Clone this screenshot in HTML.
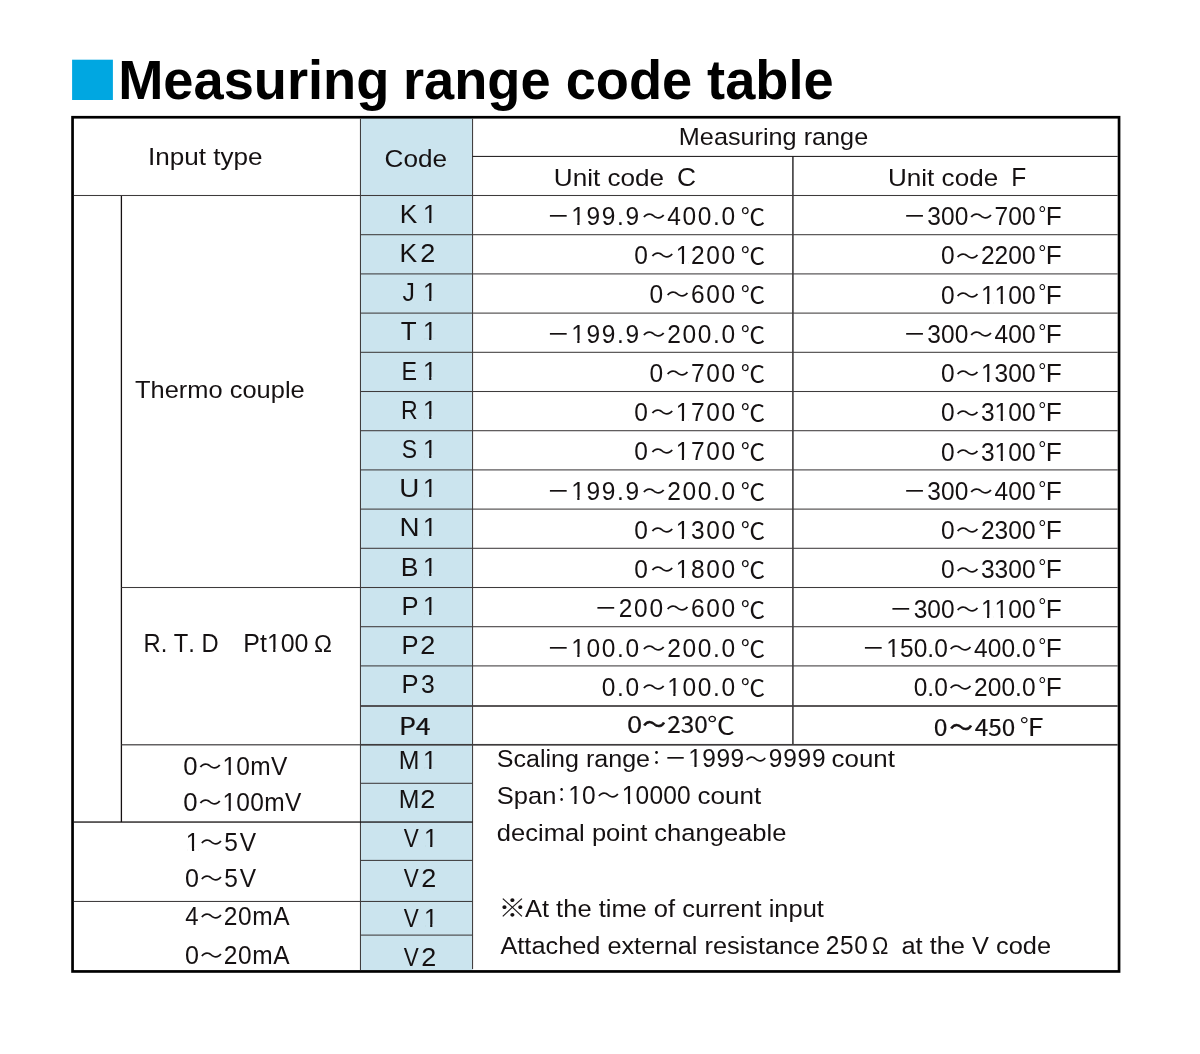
<!DOCTYPE html>
<html lang="en"><head><meta charset="utf-8"><title>Measuring range code table</title>
<style>
html,body{margin:0;padding:0;background:#fff}
svg{display:block}
text{white-space:pre;font-kerning:none;font-variant-ligatures:none}
</style></head>
<body>
<svg width="1200" height="1054" viewBox="0 0 1200 1054">
<rect width="1200" height="1054" fill="#fff"/>
<rect x="72.1" y="59.7" width="40.8" height="40.3" fill="#00a7e1"/>
<text transform="translate(0 99.1) scale(1.014 1.03)" font-family="'Liberation Sans', 'Noto Sans CJK JP', sans-serif" font-size="53.5" font-weight="700" fill="#000"><tspan x="116.52">Measuring </tspan><tspan x="397.41">range </tspan><tspan x="557.85">code </tspan><tspan x="697.37">table</tspan></text>
<rect x="360.45" y="118.10" width="112.10" height="852.50" fill="#cbe4ee"/>
<rect x="72.55" y="117.25" width="1046.50" height="854.20" fill="none" stroke="#000" stroke-width="2.7"/>
<rect x="120.75" y="195.50" width="1.30" height="626.55" fill="#151112"/>
<rect x="359.93" y="118.60" width="1.05" height="851.50" fill="#3e3b3c"/>
<rect x="472.03" y="118.60" width="1.05" height="850.50" fill="#3e3b3c"/>
<rect x="792.10" y="156.40" width="1.60" height="588.40" fill="#3e3b3c"/>
<rect x="472.55" y="155.90" width="645.15" height="1.00" fill="#151112"/>
<rect x="73.90" y="194.97" width="1043.80" height="1.05" fill="#3e3b3c"/>
<rect x="360.45" y="234.17" width="757.25" height="1.05" fill="#3e3b3c"/>
<rect x="360.45" y="273.38" width="757.25" height="1.05" fill="#3e3b3c"/>
<rect x="360.45" y="312.58" width="757.25" height="1.05" fill="#3e3b3c"/>
<rect x="360.45" y="351.78" width="757.25" height="1.05" fill="#3e3b3c"/>
<rect x="360.45" y="390.98" width="757.25" height="1.05" fill="#3e3b3c"/>
<rect x="360.45" y="430.18" width="757.25" height="1.05" fill="#3e3b3c"/>
<rect x="360.45" y="469.38" width="757.25" height="1.05" fill="#3e3b3c"/>
<rect x="360.45" y="508.58" width="757.25" height="1.05" fill="#3e3b3c"/>
<rect x="360.45" y="547.77" width="757.25" height="1.05" fill="#3e3b3c"/>
<rect x="360.45" y="586.98" width="757.25" height="1.05" fill="#3e3b3c"/>
<rect x="360.45" y="626.18" width="757.25" height="1.05" fill="#3e3b3c"/>
<rect x="360.45" y="665.38" width="757.25" height="1.05" fill="#3e3b3c"/>
<rect x="360.45" y="705.15" width="757.25" height="1.70" fill="#3e3b3c"/>
<rect x="360.45" y="743.95" width="757.25" height="1.70" fill="#3e3b3c"/>
<rect x="121.40" y="586.98" width="239.05" height="1.05" fill="#3e3b3c"/>
<rect x="121.40" y="744.20" width="239.05" height="1.20" fill="#3e3b3c"/>
<rect x="360.45" y="782.77" width="112.10" height="1.05" fill="#3e3b3c"/>
<rect x="360.45" y="859.88" width="112.10" height="1.05" fill="#3e3b3c"/>
<rect x="360.45" y="934.58" width="112.10" height="1.05" fill="#3e3b3c"/>
<rect x="73.90" y="821.40" width="398.65" height="1.30" fill="#151112"/>
<rect x="73.90" y="900.93" width="398.65" height="1.05" fill="#3e3b3c"/>
<text transform="translate(148.09 164.50) scale(1.0647 1.0000)" font-family="'Liberation Sans', 'Noto Sans CJK JP', sans-serif" font-size="24.5" fill="#151112">Input type</text>
<text transform="translate(384.57 166.50) scale(1.0669 1.0000)" font-family="'Liberation Sans', 'Noto Sans CJK JP', sans-serif" font-size="24.5" fill="#151112">Code</text>
<text transform="translate(678.83 145.10) scale(1.0307 1.0000)" font-family="'Liberation Sans', 'Noto Sans CJK JP', sans-serif" font-size="24.5" fill="#151112">Measuring range</text>
<g><text transform="translate(553.78 185.70) scale(1.0664 1.0000)" font-family="'Liberation Sans', 'Noto Sans CJK JP', sans-serif" font-size="24.5" fill="#151112">Unit code </text><text transform="translate(676.96 185.70) scale(1.0763 1.0400)" font-family="'Liberation Sans', 'Noto Sans CJK JP', sans-serif" font-size="24.5" fill="#151112">C</text></g>
<g><text transform="translate(887.99 185.70) scale(1.0644 1.0000)" font-family="'Liberation Sans', 'Noto Sans CJK JP', sans-serif" font-size="24.5" fill="#151112">Unit code </text><text transform="translate(1011.29 185.70) scale(1.0021 1.0400)" font-family="'Liberation Sans', 'Noto Sans CJK JP', sans-serif" font-size="24.5" fill="#151112">F</text></g>
<text transform="translate(135.03 398.10) scale(1.0385 1.0000)" font-family="'Liberation Sans', 'Noto Sans CJK JP', sans-serif" font-size="24.5" fill="#151112">Thermo couple</text>
<g><text transform="translate(143.55 651.50) scale(0.9678 1.0400)" font-family="'Liberation Sans', 'Noto Sans CJK JP', sans-serif" font-size="24.5" fill="#151112">R. T. D </text><text transform="translate(243.36 651.50) scale(1.0171 1.0400)" font-family="'Liberation Sans', 'Noto Sans CJK JP', sans-serif" font-size="24.5" fill="#151112">Pt100</text><text transform="translate(313.98 651.50) scale(1.0219 1.0000)" font-family="'Liberation Sans', 'Noto Sans CJK JP', sans-serif" font-size="23.5" fill="#151112">Ω</text></g>
<g><text transform="translate(183.29 775.10) scale(1.0502 1.0400)" font-family="'Liberation Sans', 'Noto Sans CJK JP', sans-serif" font-size="24.5" fill="#151112">0</text><text transform="translate(198.75 774.25) scale(0.9268 0.8500)" font-family="'Noto Sans CJK JP', 'Liberation Sans', sans-serif" font-size="24.5" fill="#151112">～</text><text transform="translate(222.43 775.10) scale(1.0000 1.0400)" font-family="'Liberation Sans', 'Noto Sans CJK JP', sans-serif" font-size="24.5" fill="#151112" letter-spacing="0.291">10mV</text></g>
<g><text transform="translate(183.29 811.00) scale(1.0502 1.0400)" font-family="'Liberation Sans', 'Noto Sans CJK JP', sans-serif" font-size="24.5" fill="#151112">0</text><text transform="translate(198.75 810.15) scale(0.9268 0.8500)" font-family="'Noto Sans CJK JP', 'Liberation Sans', sans-serif" font-size="24.5" fill="#151112">～</text><text transform="translate(222.43 811.00) scale(1.0000 1.0400)" font-family="'Liberation Sans', 'Noto Sans CJK JP', sans-serif" font-size="24.5" fill="#151112" letter-spacing="0.312">100mV</text></g>
<g><text transform="translate(185.81 850.50) scale(1.0000 1.0400)" font-family="'Liberation Sans', 'Noto Sans CJK JP', sans-serif" font-size="24.5" fill="#151112">1</text><text transform="translate(200.31 849.65) scale(0.9112 0.8500)" font-family="'Noto Sans CJK JP', 'Liberation Sans', sans-serif" font-size="24.5" fill="#151112">～</text><text transform="translate(224.22 850.50) scale(1.0000 1.0400)" font-family="'Liberation Sans', 'Noto Sans CJK JP', sans-serif" font-size="24.5" fill="#151112" letter-spacing="2.022">5V</text></g>
<g><text transform="translate(185.12 886.70) scale(1.0246 1.0400)" font-family="'Liberation Sans', 'Noto Sans CJK JP', sans-serif" font-size="24.5" fill="#151112">0</text><text transform="translate(200.31 885.85) scale(0.9112 0.8500)" font-family="'Noto Sans CJK JP', 'Liberation Sans', sans-serif" font-size="24.5" fill="#151112">～</text><text transform="translate(224.22 886.70) scale(1.0000 1.0400)" font-family="'Liberation Sans', 'Noto Sans CJK JP', sans-serif" font-size="24.5" fill="#151112" letter-spacing="2.022">5V</text></g>
<g><text transform="translate(185.15 925.10) scale(0.9760 1.0400)" font-family="'Liberation Sans', 'Noto Sans CJK JP', sans-serif" font-size="24.5" fill="#151112">4</text><text transform="translate(200.31 924.25) scale(0.9112 0.8500)" font-family="'Noto Sans CJK JP', 'Liberation Sans', sans-serif" font-size="24.5" fill="#151112">～</text><text transform="translate(223.67 925.10) scale(1.0000 1.0400)" font-family="'Liberation Sans', 'Noto Sans CJK JP', sans-serif" font-size="24.5" fill="#151112" letter-spacing="0.660">20mA</text></g>
<g><text transform="translate(185.12 964.20) scale(1.0246 1.0400)" font-family="'Liberation Sans', 'Noto Sans CJK JP', sans-serif" font-size="24.5" fill="#151112">0</text><text transform="translate(200.31 963.35) scale(0.9112 0.8500)" font-family="'Noto Sans CJK JP', 'Liberation Sans', sans-serif" font-size="24.5" fill="#151112">～</text><text transform="translate(223.67 964.20) scale(1.0000 1.0400)" font-family="'Liberation Sans', 'Noto Sans CJK JP', sans-serif" font-size="24.5" fill="#151112" letter-spacing="0.660">20mA</text></g>
<g><text transform="translate(399.74 222.80) scale(1.0612 1.0400)" font-family="'Liberation Sans', 'Noto Sans CJK JP', sans-serif" font-size="24.8" fill="#151112">K</text><text transform="translate(422.92 222.80) scale(1.0000 1.0400)" font-family="'Liberation Sans', 'Noto Sans CJK JP', sans-serif" font-size="24.8" fill="#151112">1</text></g>
<g><text transform="translate(399.53 261.70) scale(1.0683 1.0400)" font-family="'Liberation Sans', 'Noto Sans CJK JP', sans-serif" font-size="24.8" fill="#151112">K</text><text transform="translate(420.14 261.70) scale(1.0887 1.0400)" font-family="'Liberation Sans', 'Noto Sans CJK JP', sans-serif" font-size="24.8" fill="#151112">2</text></g>
<g><text transform="translate(402.51 301.00) scale(1.0028 1.0400)" font-family="'Liberation Sans', 'Noto Sans CJK JP', sans-serif" font-size="24.8" fill="#151112">J</text><text transform="translate(422.92 301.00) scale(1.0000 1.0400)" font-family="'Liberation Sans', 'Noto Sans CJK JP', sans-serif" font-size="24.8" fill="#151112">1</text></g>
<g><text transform="translate(400.82 340.40) scale(1.0483 1.0400)" font-family="'Liberation Sans', 'Noto Sans CJK JP', sans-serif" font-size="24.8" fill="#151112">T</text><text transform="translate(422.92 340.40) scale(1.0000 1.0400)" font-family="'Liberation Sans', 'Noto Sans CJK JP', sans-serif" font-size="24.8" fill="#151112">1</text></g>
<g><text transform="translate(401.59 379.50) scale(0.9374 1.0400)" font-family="'Liberation Sans', 'Noto Sans CJK JP', sans-serif" font-size="24.8" fill="#151112">E</text><text transform="translate(422.92 379.50) scale(1.0000 1.0400)" font-family="'Liberation Sans', 'Noto Sans CJK JP', sans-serif" font-size="24.8" fill="#151112">1</text></g>
<g><text transform="translate(401.01 418.60) scale(0.9304 1.0400)" font-family="'Liberation Sans', 'Noto Sans CJK JP', sans-serif" font-size="24.8" fill="#151112">R</text><text transform="translate(422.92 418.60) scale(1.0000 1.0400)" font-family="'Liberation Sans', 'Noto Sans CJK JP', sans-serif" font-size="24.8" fill="#151112">1</text></g>
<g><text transform="translate(401.86 457.70) scale(0.9246 1.0400)" font-family="'Liberation Sans', 'Noto Sans CJK JP', sans-serif" font-size="24.8" fill="#151112">S</text><text transform="translate(422.92 457.70) scale(1.0000 1.0400)" font-family="'Liberation Sans', 'Noto Sans CJK JP', sans-serif" font-size="24.8" fill="#151112">1</text></g>
<g><text transform="translate(399.25 497.00) scale(1.1219 1.0400)" font-family="'Liberation Sans', 'Noto Sans CJK JP', sans-serif" font-size="24.8" fill="#151112">U</text><text transform="translate(422.92 497.00) scale(1.0000 1.0400)" font-family="'Liberation Sans', 'Noto Sans CJK JP', sans-serif" font-size="24.8" fill="#151112">1</text></g>
<g><text transform="translate(399.42 536.20) scale(1.1189 1.0400)" font-family="'Liberation Sans', 'Noto Sans CJK JP', sans-serif" font-size="24.8" fill="#151112">N</text><text transform="translate(422.92 536.20) scale(1.0000 1.0400)" font-family="'Liberation Sans', 'Noto Sans CJK JP', sans-serif" font-size="24.8" fill="#151112">1</text></g>
<g><text transform="translate(400.73 575.50) scale(1.0682 1.0400)" font-family="'Liberation Sans', 'Noto Sans CJK JP', sans-serif" font-size="24.8" fill="#151112">B</text><text transform="translate(422.92 575.50) scale(1.0000 1.0400)" font-family="'Liberation Sans', 'Noto Sans CJK JP', sans-serif" font-size="24.8" fill="#151112">1</text></g>
<g><text transform="translate(401.60 614.70) scale(1.0304 1.0400)" font-family="'Liberation Sans', 'Noto Sans CJK JP', sans-serif" font-size="24.8" fill="#151112">P</text><text transform="translate(422.92 614.70) scale(1.0000 1.0400)" font-family="'Liberation Sans', 'Noto Sans CJK JP', sans-serif" font-size="24.8" fill="#151112">1</text></g>
<g><text transform="translate(401.60 653.90) scale(1.0304 1.0400)" font-family="'Liberation Sans', 'Noto Sans CJK JP', sans-serif" font-size="24.8" fill="#151112">P</text><text transform="translate(420.14 653.90) scale(1.0887 1.0400)" font-family="'Liberation Sans', 'Noto Sans CJK JP', sans-serif" font-size="24.8" fill="#151112">2</text></g>
<g><text transform="translate(401.60 693.10) scale(1.0304 1.0400)" font-family="'Liberation Sans', 'Noto Sans CJK JP', sans-serif" font-size="24.8" fill="#151112">P</text><text transform="translate(421.06 693.10) scale(0.9950 1.0400)" font-family="'Liberation Sans', 'Noto Sans CJK JP', sans-serif" font-size="24.8" fill="#151112">3</text></g>
<g><text transform="translate(398.66 769.40) scale(1.0006 1.0400)" font-family="'Liberation Sans', 'Noto Sans CJK JP', sans-serif" font-size="24.8" fill="#151112">M</text><text transform="translate(422.92 769.40) scale(1.0000 1.0400)" font-family="'Liberation Sans', 'Noto Sans CJK JP', sans-serif" font-size="24.8" fill="#151112">1</text></g>
<g><text transform="translate(398.66 808.30) scale(1.0006 1.0400)" font-family="'Liberation Sans', 'Noto Sans CJK JP', sans-serif" font-size="24.8" fill="#151112">M</text><text transform="translate(420.14 808.30) scale(1.0887 1.0400)" font-family="'Liberation Sans', 'Noto Sans CJK JP', sans-serif" font-size="24.8" fill="#151112">2</text></g>
<g><text transform="translate(403.80 847.30) scale(0.9067 1.0400)" font-family="'Liberation Sans', 'Noto Sans CJK JP', sans-serif" font-size="24.8" fill="#151112">V</text><text transform="translate(423.92 847.30) scale(1.0000 1.0400)" font-family="'Liberation Sans', 'Noto Sans CJK JP', sans-serif" font-size="24.8" fill="#151112">1</text></g>
<g><text transform="translate(403.80 887.20) scale(0.9067 1.0400)" font-family="'Liberation Sans', 'Noto Sans CJK JP', sans-serif" font-size="24.8" fill="#151112">V</text><text transform="translate(421.14 887.20) scale(1.0887 1.0400)" font-family="'Liberation Sans', 'Noto Sans CJK JP', sans-serif" font-size="24.8" fill="#151112">2</text></g>
<g><text transform="translate(403.80 926.80) scale(0.9067 1.0400)" font-family="'Liberation Sans', 'Noto Sans CJK JP', sans-serif" font-size="24.8" fill="#151112">V</text><text transform="translate(423.92 926.80) scale(1.0000 1.0400)" font-family="'Liberation Sans', 'Noto Sans CJK JP', sans-serif" font-size="24.8" fill="#151112">1</text></g>
<g><text transform="translate(403.80 965.80) scale(0.9067 1.0400)" font-family="'Liberation Sans', 'Noto Sans CJK JP', sans-serif" font-size="24.8" fill="#151112">V</text><text transform="translate(421.14 965.80) scale(1.0887 1.0400)" font-family="'Liberation Sans', 'Noto Sans CJK JP', sans-serif" font-size="24.8" fill="#151112">2</text></g>
<text transform="translate(398.90 734.60) scale(1.1127 1.0000)" font-family="'Noto Sans CJK JP', 'Liberation Sans', sans-serif" font-size="24" fill="#151112" stroke="#151112" stroke-width="0.22">P4</text>
<g><text transform="translate(546.67 224.75) scale(0.9445 1.0000)" font-family="'Noto Sans CJK JP', 'Liberation Sans', sans-serif" font-size="24.5" fill="#151112">－</text><text transform="translate(571.14 224.75) scale(1.0000 1.0400)" font-family="'Liberation Sans', 'Noto Sans CJK JP', sans-serif" font-size="24.5" fill="#151112" letter-spacing="1.700">199.9</text><text transform="translate(642.18 223.90) scale(0.9447 0.8500)" font-family="'Noto Sans CJK JP', 'Liberation Sans', sans-serif" font-size="24.5" fill="#151112">～</text><text transform="translate(667.15 224.75) scale(1.0000 1.0400)" font-family="'Liberation Sans', 'Noto Sans CJK JP', sans-serif" font-size="24.5" fill="#151112" letter-spacing="1.700">400.0</text><text transform="translate(740.85 224.95) scale(0.9946 0.9500)" font-family="'Noto Sans CJK JP', 'Liberation Sans', sans-serif" font-size="24.5" fill="#151112">℃</text></g>
<g><text transform="translate(902.88 225.15) scale(0.9445 1.0000)" font-family="'Noto Sans CJK JP', 'Liberation Sans', sans-serif" font-size="24.5" fill="#151112">－</text><text transform="translate(927.35 225.15) scale(1.0000 1.0400)" font-family="'Liberation Sans', 'Noto Sans CJK JP', sans-serif" font-size="24.5" fill="#151112" letter-spacing="0.050">300</text><text transform="translate(969.61 224.30) scale(0.9447 0.8500)" font-family="'Noto Sans CJK JP', 'Liberation Sans', sans-serif" font-size="24.5" fill="#151112">～</text><text transform="translate(994.58 225.15) scale(1.0000 1.0400)" font-family="'Liberation Sans', 'Noto Sans CJK JP', sans-serif" font-size="24.5" fill="#151112" letter-spacing="0.050">700</text><text transform="translate(1038.29 220.85) scale(0.9684 1.0000)" font-family="'Liberation Sans', 'Noto Sans CJK JP', sans-serif" font-size="21" fill="#151112">°</text><text transform="translate(1045.85 225.15) scale(1.0689 1.0400)" font-family="'Liberation Sans', 'Noto Sans CJK JP', sans-serif" font-size="24.5" fill="#151112">F</text></g>
<g><text transform="translate(634.13 264.00) scale(1.0000 1.0400)" font-family="'Liberation Sans', 'Noto Sans CJK JP', sans-serif" font-size="24.5" fill="#151112" letter-spacing="1.700">0</text><text transform="translate(650.68 263.15) scale(0.9447 0.8500)" font-family="'Noto Sans CJK JP', 'Liberation Sans', sans-serif" font-size="24.5" fill="#151112">～</text><text transform="translate(675.65 264.00) scale(1.0000 1.0400)" font-family="'Liberation Sans', 'Noto Sans CJK JP', sans-serif" font-size="24.5" fill="#151112" letter-spacing="1.700">1200</text><text transform="translate(740.85 264.20) scale(0.9946 0.9500)" font-family="'Noto Sans CJK JP', 'Liberation Sans', sans-serif" font-size="24.5" fill="#151112">℃</text></g>
<g><text transform="translate(941.03 264.40) scale(1.0000 1.0400)" font-family="'Liberation Sans', 'Noto Sans CJK JP', sans-serif" font-size="24.5" fill="#151112" letter-spacing="0.050">0</text><text transform="translate(955.93 263.55) scale(0.9447 0.8500)" font-family="'Noto Sans CJK JP', 'Liberation Sans', sans-serif" font-size="24.5" fill="#151112">～</text><text transform="translate(980.90 264.40) scale(1.0000 1.0400)" font-family="'Liberation Sans', 'Noto Sans CJK JP', sans-serif" font-size="24.5" fill="#151112" letter-spacing="0.050">2200</text><text transform="translate(1038.29 260.10) scale(0.9684 1.0000)" font-family="'Liberation Sans', 'Noto Sans CJK JP', sans-serif" font-size="21" fill="#151112">°</text><text transform="translate(1045.85 264.40) scale(1.0689 1.0400)" font-family="'Liberation Sans', 'Noto Sans CJK JP', sans-serif" font-size="24.5" fill="#151112">F</text></g>
<g><text transform="translate(649.45 303.26) scale(1.0000 1.0400)" font-family="'Liberation Sans', 'Noto Sans CJK JP', sans-serif" font-size="24.5" fill="#151112" letter-spacing="1.700">0</text><text transform="translate(666.01 302.41) scale(0.9447 0.8500)" font-family="'Noto Sans CJK JP', 'Liberation Sans', sans-serif" font-size="24.5" fill="#151112">～</text><text transform="translate(690.98 303.26) scale(1.0000 1.0400)" font-family="'Liberation Sans', 'Noto Sans CJK JP', sans-serif" font-size="24.5" fill="#151112" letter-spacing="1.700">600</text><text transform="translate(740.85 303.46) scale(0.9946 0.9500)" font-family="'Noto Sans CJK JP', 'Liberation Sans', sans-serif" font-size="24.5" fill="#151112">℃</text></g>
<g><text transform="translate(941.03 303.66) scale(1.0000 1.0400)" font-family="'Liberation Sans', 'Noto Sans CJK JP', sans-serif" font-size="24.5" fill="#151112" letter-spacing="0.050">0</text><text transform="translate(955.93 302.81) scale(0.9447 0.8500)" font-family="'Noto Sans CJK JP', 'Liberation Sans', sans-serif" font-size="24.5" fill="#151112">～</text><text transform="translate(980.90 303.66) scale(1.0000 1.0400)" font-family="'Liberation Sans', 'Noto Sans CJK JP', sans-serif" font-size="24.5" fill="#151112" letter-spacing="0.050">1100</text><text transform="translate(1038.29 299.36) scale(0.9684 1.0000)" font-family="'Liberation Sans', 'Noto Sans CJK JP', sans-serif" font-size="21" fill="#151112">°</text><text transform="translate(1045.85 303.66) scale(1.0689 1.0400)" font-family="'Liberation Sans', 'Noto Sans CJK JP', sans-serif" font-size="24.5" fill="#151112">F</text></g>
<g><text transform="translate(546.67 342.51) scale(0.9445 1.0000)" font-family="'Noto Sans CJK JP', 'Liberation Sans', sans-serif" font-size="24.5" fill="#151112">－</text><text transform="translate(571.14 342.51) scale(1.0000 1.0400)" font-family="'Liberation Sans', 'Noto Sans CJK JP', sans-serif" font-size="24.5" fill="#151112" letter-spacing="1.700">199.9</text><text transform="translate(642.18 341.66) scale(0.9447 0.8500)" font-family="'Noto Sans CJK JP', 'Liberation Sans', sans-serif" font-size="24.5" fill="#151112">～</text><text transform="translate(667.15 342.51) scale(1.0000 1.0400)" font-family="'Liberation Sans', 'Noto Sans CJK JP', sans-serif" font-size="24.5" fill="#151112" letter-spacing="1.700">200.0</text><text transform="translate(740.85 342.71) scale(0.9946 0.9500)" font-family="'Noto Sans CJK JP', 'Liberation Sans', sans-serif" font-size="24.5" fill="#151112">℃</text></g>
<g><text transform="translate(902.88 342.91) scale(0.9445 1.0000)" font-family="'Noto Sans CJK JP', 'Liberation Sans', sans-serif" font-size="24.5" fill="#151112">－</text><text transform="translate(927.35 342.91) scale(1.0000 1.0400)" font-family="'Liberation Sans', 'Noto Sans CJK JP', sans-serif" font-size="24.5" fill="#151112" letter-spacing="0.050">300</text><text transform="translate(969.61 342.06) scale(0.9447 0.8500)" font-family="'Noto Sans CJK JP', 'Liberation Sans', sans-serif" font-size="24.5" fill="#151112">～</text><text transform="translate(994.58 342.91) scale(1.0000 1.0400)" font-family="'Liberation Sans', 'Noto Sans CJK JP', sans-serif" font-size="24.5" fill="#151112" letter-spacing="0.050">400</text><text transform="translate(1038.29 338.61) scale(0.9684 1.0000)" font-family="'Liberation Sans', 'Noto Sans CJK JP', sans-serif" font-size="21" fill="#151112">°</text><text transform="translate(1045.85 342.91) scale(1.0689 1.0400)" font-family="'Liberation Sans', 'Noto Sans CJK JP', sans-serif" font-size="24.5" fill="#151112">F</text></g>
<g><text transform="translate(649.45 381.77) scale(1.0000 1.0400)" font-family="'Liberation Sans', 'Noto Sans CJK JP', sans-serif" font-size="24.5" fill="#151112" letter-spacing="1.700">0</text><text transform="translate(666.01 380.92) scale(0.9447 0.8500)" font-family="'Noto Sans CJK JP', 'Liberation Sans', sans-serif" font-size="24.5" fill="#151112">～</text><text transform="translate(690.98 381.77) scale(1.0000 1.0400)" font-family="'Liberation Sans', 'Noto Sans CJK JP', sans-serif" font-size="24.5" fill="#151112" letter-spacing="1.700">700</text><text transform="translate(740.85 381.97) scale(0.9946 0.9500)" font-family="'Noto Sans CJK JP', 'Liberation Sans', sans-serif" font-size="24.5" fill="#151112">℃</text></g>
<g><text transform="translate(941.03 382.17) scale(1.0000 1.0400)" font-family="'Liberation Sans', 'Noto Sans CJK JP', sans-serif" font-size="24.5" fill="#151112" letter-spacing="0.050">0</text><text transform="translate(955.93 381.32) scale(0.9447 0.8500)" font-family="'Noto Sans CJK JP', 'Liberation Sans', sans-serif" font-size="24.5" fill="#151112">～</text><text transform="translate(980.90 382.17) scale(1.0000 1.0400)" font-family="'Liberation Sans', 'Noto Sans CJK JP', sans-serif" font-size="24.5" fill="#151112" letter-spacing="0.050">1300</text><text transform="translate(1038.29 377.87) scale(0.9684 1.0000)" font-family="'Liberation Sans', 'Noto Sans CJK JP', sans-serif" font-size="21" fill="#151112">°</text><text transform="translate(1045.85 382.17) scale(1.0689 1.0400)" font-family="'Liberation Sans', 'Noto Sans CJK JP', sans-serif" font-size="24.5" fill="#151112">F</text></g>
<g><text transform="translate(634.13 421.02) scale(1.0000 1.0400)" font-family="'Liberation Sans', 'Noto Sans CJK JP', sans-serif" font-size="24.5" fill="#151112" letter-spacing="1.700">0</text><text transform="translate(650.68 420.17) scale(0.9447 0.8500)" font-family="'Noto Sans CJK JP', 'Liberation Sans', sans-serif" font-size="24.5" fill="#151112">～</text><text transform="translate(675.65 421.02) scale(1.0000 1.0400)" font-family="'Liberation Sans', 'Noto Sans CJK JP', sans-serif" font-size="24.5" fill="#151112" letter-spacing="1.700">1700</text><text transform="translate(740.85 421.22) scale(0.9946 0.9500)" font-family="'Noto Sans CJK JP', 'Liberation Sans', sans-serif" font-size="24.5" fill="#151112">℃</text></g>
<g><text transform="translate(941.03 421.42) scale(1.0000 1.0400)" font-family="'Liberation Sans', 'Noto Sans CJK JP', sans-serif" font-size="24.5" fill="#151112" letter-spacing="0.050">0</text><text transform="translate(955.93 420.57) scale(0.9447 0.8500)" font-family="'Noto Sans CJK JP', 'Liberation Sans', sans-serif" font-size="24.5" fill="#151112">～</text><text transform="translate(980.90 421.42) scale(1.0000 1.0400)" font-family="'Liberation Sans', 'Noto Sans CJK JP', sans-serif" font-size="24.5" fill="#151112" letter-spacing="0.050">3100</text><text transform="translate(1038.29 417.12) scale(0.9684 1.0000)" font-family="'Liberation Sans', 'Noto Sans CJK JP', sans-serif" font-size="21" fill="#151112">°</text><text transform="translate(1045.85 421.42) scale(1.0689 1.0400)" font-family="'Liberation Sans', 'Noto Sans CJK JP', sans-serif" font-size="24.5" fill="#151112">F</text></g>
<g><text transform="translate(634.13 460.28) scale(1.0000 1.0400)" font-family="'Liberation Sans', 'Noto Sans CJK JP', sans-serif" font-size="24.5" fill="#151112" letter-spacing="1.700">0</text><text transform="translate(650.68 459.43) scale(0.9447 0.8500)" font-family="'Noto Sans CJK JP', 'Liberation Sans', sans-serif" font-size="24.5" fill="#151112">～</text><text transform="translate(675.65 460.28) scale(1.0000 1.0400)" font-family="'Liberation Sans', 'Noto Sans CJK JP', sans-serif" font-size="24.5" fill="#151112" letter-spacing="1.700">1700</text><text transform="translate(740.85 460.48) scale(0.9946 0.9500)" font-family="'Noto Sans CJK JP', 'Liberation Sans', sans-serif" font-size="24.5" fill="#151112">℃</text></g>
<g><text transform="translate(941.03 460.68) scale(1.0000 1.0400)" font-family="'Liberation Sans', 'Noto Sans CJK JP', sans-serif" font-size="24.5" fill="#151112" letter-spacing="0.050">0</text><text transform="translate(955.93 459.83) scale(0.9447 0.8500)" font-family="'Noto Sans CJK JP', 'Liberation Sans', sans-serif" font-size="24.5" fill="#151112">～</text><text transform="translate(980.90 460.68) scale(1.0000 1.0400)" font-family="'Liberation Sans', 'Noto Sans CJK JP', sans-serif" font-size="24.5" fill="#151112" letter-spacing="0.050">3100</text><text transform="translate(1038.29 456.38) scale(0.9684 1.0000)" font-family="'Liberation Sans', 'Noto Sans CJK JP', sans-serif" font-size="21" fill="#151112">°</text><text transform="translate(1045.85 460.68) scale(1.0689 1.0400)" font-family="'Liberation Sans', 'Noto Sans CJK JP', sans-serif" font-size="24.5" fill="#151112">F</text></g>
<g><text transform="translate(546.67 499.54) scale(0.9445 1.0000)" font-family="'Noto Sans CJK JP', 'Liberation Sans', sans-serif" font-size="24.5" fill="#151112">－</text><text transform="translate(571.14 499.54) scale(1.0000 1.0400)" font-family="'Liberation Sans', 'Noto Sans CJK JP', sans-serif" font-size="24.5" fill="#151112" letter-spacing="1.700">199.9</text><text transform="translate(642.18 498.69) scale(0.9447 0.8500)" font-family="'Noto Sans CJK JP', 'Liberation Sans', sans-serif" font-size="24.5" fill="#151112">～</text><text transform="translate(667.15 499.54) scale(1.0000 1.0400)" font-family="'Liberation Sans', 'Noto Sans CJK JP', sans-serif" font-size="24.5" fill="#151112" letter-spacing="1.700">200.0</text><text transform="translate(740.85 499.74) scale(0.9946 0.9500)" font-family="'Noto Sans CJK JP', 'Liberation Sans', sans-serif" font-size="24.5" fill="#151112">℃</text></g>
<g><text transform="translate(902.88 499.94) scale(0.9445 1.0000)" font-family="'Noto Sans CJK JP', 'Liberation Sans', sans-serif" font-size="24.5" fill="#151112">－</text><text transform="translate(927.35 499.94) scale(1.0000 1.0400)" font-family="'Liberation Sans', 'Noto Sans CJK JP', sans-serif" font-size="24.5" fill="#151112" letter-spacing="0.050">300</text><text transform="translate(969.61 499.08) scale(0.9447 0.8500)" font-family="'Noto Sans CJK JP', 'Liberation Sans', sans-serif" font-size="24.5" fill="#151112">～</text><text transform="translate(994.58 499.94) scale(1.0000 1.0400)" font-family="'Liberation Sans', 'Noto Sans CJK JP', sans-serif" font-size="24.5" fill="#151112" letter-spacing="0.050">400</text><text transform="translate(1038.29 495.63) scale(0.9684 1.0000)" font-family="'Liberation Sans', 'Noto Sans CJK JP', sans-serif" font-size="21" fill="#151112">°</text><text transform="translate(1045.85 499.94) scale(1.0689 1.0400)" font-family="'Liberation Sans', 'Noto Sans CJK JP', sans-serif" font-size="24.5" fill="#151112">F</text></g>
<g><text transform="translate(634.13 538.79) scale(1.0000 1.0400)" font-family="'Liberation Sans', 'Noto Sans CJK JP', sans-serif" font-size="24.5" fill="#151112" letter-spacing="1.700">0</text><text transform="translate(650.68 537.94) scale(0.9447 0.8500)" font-family="'Noto Sans CJK JP', 'Liberation Sans', sans-serif" font-size="24.5" fill="#151112">～</text><text transform="translate(675.65 538.79) scale(1.0000 1.0400)" font-family="'Liberation Sans', 'Noto Sans CJK JP', sans-serif" font-size="24.5" fill="#151112" letter-spacing="1.700">1300</text><text transform="translate(740.85 538.99) scale(0.9946 0.9500)" font-family="'Noto Sans CJK JP', 'Liberation Sans', sans-serif" font-size="24.5" fill="#151112">℃</text></g>
<g><text transform="translate(941.03 539.19) scale(1.0000 1.0400)" font-family="'Liberation Sans', 'Noto Sans CJK JP', sans-serif" font-size="24.5" fill="#151112" letter-spacing="0.050">0</text><text transform="translate(955.93 538.34) scale(0.9447 0.8500)" font-family="'Noto Sans CJK JP', 'Liberation Sans', sans-serif" font-size="24.5" fill="#151112">～</text><text transform="translate(980.90 539.19) scale(1.0000 1.0400)" font-family="'Liberation Sans', 'Noto Sans CJK JP', sans-serif" font-size="24.5" fill="#151112" letter-spacing="0.050">2300</text><text transform="translate(1038.29 534.89) scale(0.9684 1.0000)" font-family="'Liberation Sans', 'Noto Sans CJK JP', sans-serif" font-size="21" fill="#151112">°</text><text transform="translate(1045.85 539.19) scale(1.0689 1.0400)" font-family="'Liberation Sans', 'Noto Sans CJK JP', sans-serif" font-size="24.5" fill="#151112">F</text></g>
<g><text transform="translate(634.13 578.05) scale(1.0000 1.0400)" font-family="'Liberation Sans', 'Noto Sans CJK JP', sans-serif" font-size="24.5" fill="#151112" letter-spacing="1.700">0</text><text transform="translate(650.68 577.20) scale(0.9447 0.8500)" font-family="'Noto Sans CJK JP', 'Liberation Sans', sans-serif" font-size="24.5" fill="#151112">～</text><text transform="translate(675.65 578.05) scale(1.0000 1.0400)" font-family="'Liberation Sans', 'Noto Sans CJK JP', sans-serif" font-size="24.5" fill="#151112" letter-spacing="1.700">1800</text><text transform="translate(740.85 578.25) scale(0.9946 0.9500)" font-family="'Noto Sans CJK JP', 'Liberation Sans', sans-serif" font-size="24.5" fill="#151112">℃</text></g>
<g><text transform="translate(941.03 578.45) scale(1.0000 1.0400)" font-family="'Liberation Sans', 'Noto Sans CJK JP', sans-serif" font-size="24.5" fill="#151112" letter-spacing="0.050">0</text><text transform="translate(955.93 577.60) scale(0.9447 0.8500)" font-family="'Noto Sans CJK JP', 'Liberation Sans', sans-serif" font-size="24.5" fill="#151112">～</text><text transform="translate(980.90 578.45) scale(1.0000 1.0400)" font-family="'Liberation Sans', 'Noto Sans CJK JP', sans-serif" font-size="24.5" fill="#151112" letter-spacing="0.050">3300</text><text transform="translate(1038.29 574.15) scale(0.9684 1.0000)" font-family="'Liberation Sans', 'Noto Sans CJK JP', sans-serif" font-size="21" fill="#151112">°</text><text transform="translate(1045.85 578.45) scale(1.0689 1.0400)" font-family="'Liberation Sans', 'Noto Sans CJK JP', sans-serif" font-size="24.5" fill="#151112">F</text></g>
<g><text transform="translate(594.33 617.30) scale(0.9445 1.0000)" font-family="'Noto Sans CJK JP', 'Liberation Sans', sans-serif" font-size="24.5" fill="#151112">－</text><text transform="translate(618.80 617.30) scale(1.0000 1.0400)" font-family="'Liberation Sans', 'Noto Sans CJK JP', sans-serif" font-size="24.5" fill="#151112" letter-spacing="1.700">200</text><text transform="translate(666.01 616.45) scale(0.9447 0.8500)" font-family="'Noto Sans CJK JP', 'Liberation Sans', sans-serif" font-size="24.5" fill="#151112">～</text><text transform="translate(690.98 617.30) scale(1.0000 1.0400)" font-family="'Liberation Sans', 'Noto Sans CJK JP', sans-serif" font-size="24.5" fill="#151112" letter-spacing="1.700">600</text><text transform="translate(740.85 617.50) scale(0.9946 0.9500)" font-family="'Noto Sans CJK JP', 'Liberation Sans', sans-serif" font-size="24.5" fill="#151112">℃</text></g>
<g><text transform="translate(889.21 617.70) scale(0.9445 1.0000)" font-family="'Noto Sans CJK JP', 'Liberation Sans', sans-serif" font-size="24.5" fill="#151112">－</text><text transform="translate(913.68 617.70) scale(1.0000 1.0400)" font-family="'Liberation Sans', 'Noto Sans CJK JP', sans-serif" font-size="24.5" fill="#151112" letter-spacing="0.050">300</text><text transform="translate(955.93 616.85) scale(0.9447 0.8500)" font-family="'Noto Sans CJK JP', 'Liberation Sans', sans-serif" font-size="24.5" fill="#151112">～</text><text transform="translate(980.90 617.70) scale(1.0000 1.0400)" font-family="'Liberation Sans', 'Noto Sans CJK JP', sans-serif" font-size="24.5" fill="#151112" letter-spacing="0.050">1100</text><text transform="translate(1038.29 613.40) scale(0.9684 1.0000)" font-family="'Liberation Sans', 'Noto Sans CJK JP', sans-serif" font-size="21" fill="#151112">°</text><text transform="translate(1045.85 617.70) scale(1.0689 1.0400)" font-family="'Liberation Sans', 'Noto Sans CJK JP', sans-serif" font-size="24.5" fill="#151112">F</text></g>
<g><text transform="translate(546.67 656.56) scale(0.9445 1.0000)" font-family="'Noto Sans CJK JP', 'Liberation Sans', sans-serif" font-size="24.5" fill="#151112">－</text><text transform="translate(571.14 656.56) scale(1.0000 1.0400)" font-family="'Liberation Sans', 'Noto Sans CJK JP', sans-serif" font-size="24.5" fill="#151112" letter-spacing="1.700">100.0</text><text transform="translate(642.18 655.71) scale(0.9447 0.8500)" font-family="'Noto Sans CJK JP', 'Liberation Sans', sans-serif" font-size="24.5" fill="#151112">～</text><text transform="translate(667.15 656.56) scale(1.0000 1.0400)" font-family="'Liberation Sans', 'Noto Sans CJK JP', sans-serif" font-size="24.5" fill="#151112" letter-spacing="1.700">200.0</text><text transform="translate(740.85 656.76) scale(0.9946 0.9500)" font-family="'Noto Sans CJK JP', 'Liberation Sans', sans-serif" font-size="24.5" fill="#151112">℃</text></g>
<g><text transform="translate(861.82 656.96) scale(0.9445 1.0000)" font-family="'Noto Sans CJK JP', 'Liberation Sans', sans-serif" font-size="24.5" fill="#151112">－</text><text transform="translate(886.29 656.96) scale(1.0000 1.0400)" font-family="'Liberation Sans', 'Noto Sans CJK JP', sans-serif" font-size="24.5" fill="#151112" letter-spacing="0.050">150.0</text><text transform="translate(949.08 656.11) scale(0.9447 0.8500)" font-family="'Noto Sans CJK JP', 'Liberation Sans', sans-serif" font-size="24.5" fill="#151112">～</text><text transform="translate(974.05 656.96) scale(1.0000 1.0400)" font-family="'Liberation Sans', 'Noto Sans CJK JP', sans-serif" font-size="24.5" fill="#151112" letter-spacing="0.050">400.0</text><text transform="translate(1038.29 652.66) scale(0.9684 1.0000)" font-family="'Liberation Sans', 'Noto Sans CJK JP', sans-serif" font-size="21" fill="#151112">°</text><text transform="translate(1045.85 656.96) scale(1.0689 1.0400)" font-family="'Liberation Sans', 'Noto Sans CJK JP', sans-serif" font-size="24.5" fill="#151112">F</text></g>
<g><text transform="translate(601.79 695.81) scale(1.0000 1.0400)" font-family="'Liberation Sans', 'Noto Sans CJK JP', sans-serif" font-size="24.5" fill="#151112" letter-spacing="1.700">0.0</text><text transform="translate(642.18 694.96) scale(0.9447 0.8500)" font-family="'Noto Sans CJK JP', 'Liberation Sans', sans-serif" font-size="24.5" fill="#151112">～</text><text transform="translate(667.15 695.81) scale(1.0000 1.0400)" font-family="'Liberation Sans', 'Noto Sans CJK JP', sans-serif" font-size="24.5" fill="#151112" letter-spacing="1.700">100.0</text><text transform="translate(740.85 696.01) scale(0.9946 0.9500)" font-family="'Noto Sans CJK JP', 'Liberation Sans', sans-serif" font-size="24.5" fill="#151112">℃</text></g>
<g><text transform="translate(913.64 696.21) scale(1.0000 1.0400)" font-family="'Liberation Sans', 'Noto Sans CJK JP', sans-serif" font-size="24.5" fill="#151112" letter-spacing="0.050">0.0</text><text transform="translate(949.08 695.36) scale(0.9447 0.8500)" font-family="'Noto Sans CJK JP', 'Liberation Sans', sans-serif" font-size="24.5" fill="#151112">～</text><text transform="translate(974.05 696.21) scale(1.0000 1.0400)" font-family="'Liberation Sans', 'Noto Sans CJK JP', sans-serif" font-size="24.5" fill="#151112" letter-spacing="0.050">200.0</text><text transform="translate(1038.29 691.91) scale(0.9684 1.0000)" font-family="'Liberation Sans', 'Noto Sans CJK JP', sans-serif" font-size="21" fill="#151112">°</text><text transform="translate(1045.85 696.21) scale(1.0689 1.0400)" font-family="'Liberation Sans', 'Noto Sans CJK JP', sans-serif" font-size="24.5" fill="#151112">F</text></g>
<g><text transform="translate(626.93 733.30) scale(1.1422 1.0000)" font-family="'Noto Sans CJK JP', 'Liberation Sans', sans-serif" font-size="24" fill="#151112" stroke="#151112" stroke-width="0.18">0</text><text transform="translate(642.84 733.30) scale(0.9507 1.0000)" font-family="'Noto Sans CJK JP', 'Liberation Sans', sans-serif" font-size="24" fill="#151112" stroke="#151112" stroke-width="0.74">～</text><text transform="translate(667.33 733.30) scale(1.0152 1.0000)" font-family="'Noto Sans CJK JP', 'Liberation Sans', sans-serif" font-size="24" fill="#151112" stroke="#151112" stroke-width="0.20">230</text><text transform="translate(706.99 733.50) scale(1.1617 1.0000)" font-family="'Noto Sans CJK JP', 'Liberation Sans', sans-serif" font-size="24" fill="#151112">℃</text></g>
<g><text transform="translate(933.76 736.30) scale(1.0325 1.0000)" font-family="'Noto Sans CJK JP', 'Liberation Sans', sans-serif" font-size="24" fill="#151112" stroke="#151112" stroke-width="0.19">0</text><text transform="translate(949.84 736.30) scale(0.9507 1.0000)" font-family="'Noto Sans CJK JP', 'Liberation Sans', sans-serif" font-size="24" fill="#151112" stroke="#151112" stroke-width="0.74">～</text><text transform="translate(974.81 736.30) scale(1.0156 1.0000)" font-family="'Noto Sans CJK JP', 'Liberation Sans', sans-serif" font-size="24" fill="#151112" stroke="#151112" stroke-width="0.20">450</text><text transform="translate(1019.38 733.40) scale(0.9961 1.0000)" font-family="'Liberation Sans', 'Noto Sans CJK JP', sans-serif" font-size="24" fill="#151112">°</text><text transform="translate(1027.38 736.30) scale(1.2046 1.0000)" font-family="'Noto Sans CJK JP', 'Liberation Sans', sans-serif" font-size="24" fill="#151112">F</text></g>
<g><text transform="translate(496.76 767.40) scale(1.0236 1.0000)" font-family="'Liberation Sans', 'Noto Sans CJK JP', sans-serif" font-size="24.5" fill="#151112">Scaling range</text><text transform="translate(647.01 765.15) scale(0.9784 1.0000)" font-family="'Noto Sans CJK JP', 'Liberation Sans', sans-serif" font-size="19.5" fill="#151112">：</text><text transform="translate(664.21 767.40) scale(0.9220 1.0000)" font-family="'Noto Sans CJK JP', 'Liberation Sans', sans-serif" font-size="24.5" fill="#151112">－</text><text transform="translate(688.23 767.40) scale(1.0000 1.0400)" font-family="'Liberation Sans', 'Noto Sans CJK JP', sans-serif" font-size="24.5" fill="#151112" letter-spacing="0.475">1999</text><text transform="translate(745.08 766.55) scale(0.8912 0.8500)" font-family="'Noto Sans CJK JP', 'Liberation Sans', sans-serif" font-size="24.5" fill="#151112">～</text><text transform="translate(768.85 767.40) scale(1.0000 1.0400)" font-family="'Liberation Sans', 'Noto Sans CJK JP', sans-serif" font-size="24.5" fill="#151112" letter-spacing="0.735">9999 </text><text transform="translate(831.60 767.40) scale(1.0560 1.0000)" font-family="'Liberation Sans', 'Noto Sans CJK JP', sans-serif" font-size="24.5" fill="#151112">count</text></g>
<g><text transform="translate(496.74 804.20) scale(1.0428 1.0000)" font-family="'Liberation Sans', 'Noto Sans CJK JP', sans-serif" font-size="24.5" fill="#151112">Span</text><text transform="translate(552.77 801.95) scale(0.9109 1.0000)" font-family="'Noto Sans CJK JP', 'Liberation Sans', sans-serif" font-size="19.5" fill="#151112">：</text><text transform="translate(568.13 804.20) scale(1.0000 1.0400)" font-family="'Liberation Sans', 'Noto Sans CJK JP', sans-serif" font-size="24.5" fill="#151112" letter-spacing="0.172">10</text><text transform="translate(597.36 803.35) scale(0.9090 0.8500)" font-family="'Noto Sans CJK JP', 'Liberation Sans', sans-serif" font-size="24.5" fill="#151112">～</text><text transform="translate(621.83 804.20) scale(1.0000 1.0400)" font-family="'Liberation Sans', 'Noto Sans CJK JP', sans-serif" font-size="24.5" fill="#151112" letter-spacing="0.174">10000 </text><text transform="translate(697.59 804.20) scale(1.0628 1.0000)" font-family="'Liberation Sans', 'Noto Sans CJK JP', sans-serif" font-size="24.5" fill="#151112">count</text></g>
<text transform="translate(496.83 840.60) scale(1.0423 1.0000)" font-family="'Liberation Sans', 'Noto Sans CJK JP', sans-serif" font-size="24.5" fill="#151112">decimal point changeable</text>
<g><text transform="translate(498.61 917.00) scale(1.1338 1.0000)" font-family="'Noto Sans CJK JP', 'Liberation Sans', sans-serif" font-size="24.5" fill="#151112">※</text><text transform="translate(524.95 917.00) scale(1.0405 1.0000)" font-family="'Liberation Sans', 'Noto Sans CJK JP', sans-serif" font-size="24.5" fill="#151112">At the time of current input</text></g>
<g><text transform="translate(500.45 953.75) scale(1.0333 1.0000)" font-family="'Liberation Sans', 'Noto Sans CJK JP', sans-serif" font-size="24.5" fill="#151112">Attached external resistance </text><text transform="translate(825.77 953.75) scale(1.0000 1.0400)" font-family="'Liberation Sans', 'Noto Sans CJK JP', sans-serif" font-size="24.5" fill="#151112" letter-spacing="0.656">250</text><text transform="translate(872.07 953.75) scale(0.9522 1.0000)" font-family="'Liberation Sans', 'Noto Sans CJK JP', sans-serif" font-size="23.0" fill="#151112">Ω </text><text transform="translate(901.42 953.75) scale(1.0369 1.0000)" font-family="'Liberation Sans', 'Noto Sans CJK JP', sans-serif" font-size="24.5" fill="#151112">at the V code</text></g>
<rect x="268.20" y="649.15" width="4.97" height="2.95" fill="#fff"/>
<rect x="275.37" y="649.15" width="4.77" height="2.95" fill="#fff"/>
<rect x="223.70" y="772.75" width="4.89" height="2.95" fill="#fff"/>
<rect x="230.76" y="772.75" width="4.70" height="2.95" fill="#fff"/>
<rect x="223.70" y="808.65" width="4.89" height="2.95" fill="#fff"/>
<rect x="230.76" y="808.65" width="4.70" height="2.95" fill="#fff"/>
<rect x="187.07" y="848.15" width="4.89" height="2.95" fill="#fff"/>
<rect x="194.13" y="848.15" width="4.70" height="2.95" fill="#fff"/>
<rect x="424.21" y="220.42" width="4.95" height="2.98" fill="#cbe4ee"/>
<rect x="431.34" y="220.42" width="4.75" height="2.98" fill="#cbe4ee"/>
<rect x="424.21" y="298.62" width="4.95" height="2.98" fill="#cbe4ee"/>
<rect x="431.34" y="298.62" width="4.75" height="2.98" fill="#cbe4ee"/>
<rect x="424.21" y="338.02" width="4.95" height="2.98" fill="#cbe4ee"/>
<rect x="431.34" y="338.02" width="4.75" height="2.98" fill="#cbe4ee"/>
<rect x="424.21" y="377.12" width="4.95" height="2.98" fill="#cbe4ee"/>
<rect x="431.34" y="377.12" width="4.75" height="2.98" fill="#cbe4ee"/>
<rect x="424.21" y="416.22" width="4.95" height="2.98" fill="#cbe4ee"/>
<rect x="431.34" y="416.22" width="4.75" height="2.98" fill="#cbe4ee"/>
<rect x="424.21" y="455.32" width="4.95" height="2.98" fill="#cbe4ee"/>
<rect x="431.34" y="455.32" width="4.75" height="2.98" fill="#cbe4ee"/>
<rect x="424.21" y="494.62" width="4.95" height="2.98" fill="#cbe4ee"/>
<rect x="431.34" y="494.62" width="4.75" height="2.98" fill="#cbe4ee"/>
<rect x="424.21" y="533.82" width="4.95" height="2.98" fill="#cbe4ee"/>
<rect x="431.34" y="533.82" width="4.75" height="2.98" fill="#cbe4ee"/>
<rect x="424.21" y="573.12" width="4.95" height="2.98" fill="#cbe4ee"/>
<rect x="431.34" y="573.12" width="4.75" height="2.98" fill="#cbe4ee"/>
<rect x="424.21" y="612.32" width="4.95" height="2.98" fill="#cbe4ee"/>
<rect x="431.34" y="612.32" width="4.75" height="2.98" fill="#cbe4ee"/>
<rect x="424.21" y="767.02" width="4.95" height="2.98" fill="#cbe4ee"/>
<rect x="431.34" y="767.02" width="4.75" height="2.98" fill="#cbe4ee"/>
<rect x="425.21" y="844.92" width="4.95" height="2.98" fill="#cbe4ee"/>
<rect x="432.34" y="844.92" width="4.75" height="2.98" fill="#cbe4ee"/>
<rect x="425.21" y="924.42" width="4.95" height="2.98" fill="#cbe4ee"/>
<rect x="432.34" y="924.42" width="4.75" height="2.98" fill="#cbe4ee"/>
<rect x="572.40" y="222.40" width="4.89" height="2.95" fill="#fff"/>
<rect x="579.46" y="222.40" width="4.70" height="2.95" fill="#fff"/>
<rect x="676.92" y="261.65" width="4.89" height="2.95" fill="#fff"/>
<rect x="683.98" y="261.65" width="4.70" height="2.95" fill="#fff"/>
<rect x="982.17" y="301.31" width="4.89" height="2.95" fill="#fff"/>
<rect x="989.23" y="301.31" width="4.70" height="2.95" fill="#fff"/>
<rect x="995.85" y="301.31" width="4.89" height="2.95" fill="#fff"/>
<rect x="1002.90" y="301.31" width="4.70" height="2.95" fill="#fff"/>
<rect x="572.40" y="340.16" width="4.89" height="2.95" fill="#fff"/>
<rect x="579.46" y="340.16" width="4.70" height="2.95" fill="#fff"/>
<rect x="982.17" y="379.82" width="4.89" height="2.95" fill="#fff"/>
<rect x="989.23" y="379.82" width="4.70" height="2.95" fill="#fff"/>
<rect x="676.92" y="418.67" width="4.89" height="2.95" fill="#fff"/>
<rect x="683.98" y="418.67" width="4.70" height="2.95" fill="#fff"/>
<rect x="995.85" y="419.07" width="4.89" height="2.95" fill="#fff"/>
<rect x="1002.90" y="419.07" width="4.70" height="2.95" fill="#fff"/>
<rect x="676.92" y="457.93" width="4.89" height="2.95" fill="#fff"/>
<rect x="683.98" y="457.93" width="4.70" height="2.95" fill="#fff"/>
<rect x="995.85" y="458.33" width="4.89" height="2.95" fill="#fff"/>
<rect x="1002.90" y="458.33" width="4.70" height="2.95" fill="#fff"/>
<rect x="572.40" y="497.18" width="4.89" height="2.95" fill="#fff"/>
<rect x="579.46" y="497.18" width="4.70" height="2.95" fill="#fff"/>
<rect x="676.92" y="536.44" width="4.89" height="2.95" fill="#fff"/>
<rect x="683.98" y="536.44" width="4.70" height="2.95" fill="#fff"/>
<rect x="676.92" y="575.69" width="4.89" height="2.95" fill="#fff"/>
<rect x="683.98" y="575.69" width="4.70" height="2.95" fill="#fff"/>
<rect x="982.17" y="615.35" width="4.89" height="2.95" fill="#fff"/>
<rect x="989.23" y="615.35" width="4.70" height="2.95" fill="#fff"/>
<rect x="995.85" y="615.35" width="4.89" height="2.95" fill="#fff"/>
<rect x="1002.90" y="615.35" width="4.70" height="2.95" fill="#fff"/>
<rect x="572.40" y="654.20" width="4.89" height="2.95" fill="#fff"/>
<rect x="579.46" y="654.20" width="4.70" height="2.95" fill="#fff"/>
<rect x="887.55" y="654.60" width="4.89" height="2.95" fill="#fff"/>
<rect x="894.61" y="654.60" width="4.70" height="2.95" fill="#fff"/>
<rect x="668.41" y="693.46" width="4.89" height="2.95" fill="#fff"/>
<rect x="675.47" y="693.46" width="4.70" height="2.95" fill="#fff"/>
<rect x="689.50" y="765.05" width="4.89" height="2.95" fill="#fff"/>
<rect x="696.56" y="765.05" width="4.70" height="2.95" fill="#fff"/>
<rect x="569.40" y="801.85" width="4.89" height="2.95" fill="#fff"/>
<rect x="576.46" y="801.85" width="4.70" height="2.95" fill="#fff"/>
<rect x="623.10" y="801.85" width="4.89" height="2.95" fill="#fff"/>
<rect x="630.16" y="801.85" width="4.70" height="2.95" fill="#fff"/>
</svg>
</body></html>
